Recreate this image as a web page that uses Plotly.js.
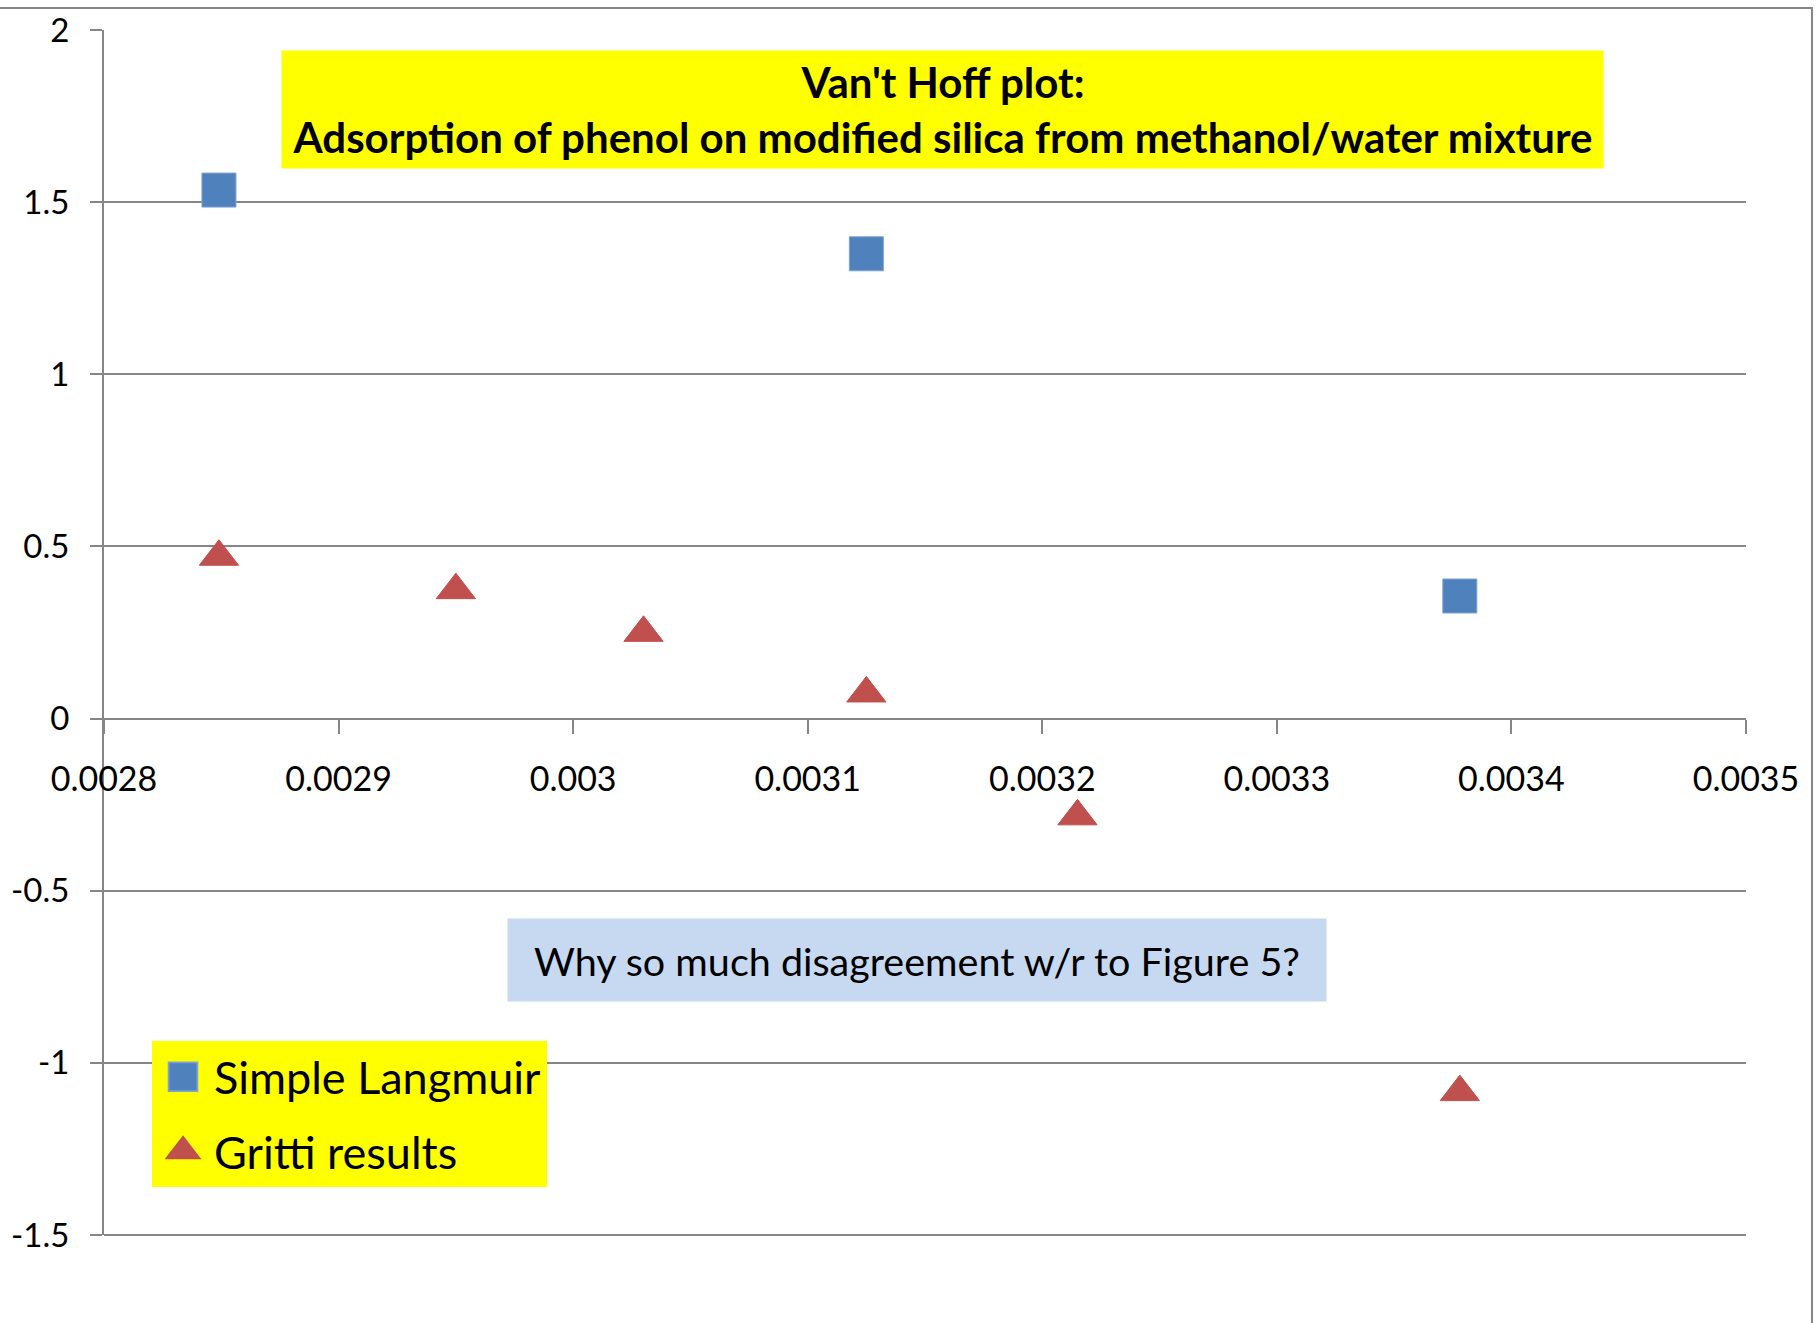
<!DOCTYPE html>
<html>
<head>
<meta charset="utf-8">
<script src="https://cdn.plot.ly/plotly-3.0.1.min.js"></script>
<style>
  html, body { margin: 0; padding: 0; background: #ffffff; }
  #chart { width: 1818px; height: 1323px; }
</style>
</head>
<body>
<div id="chart"></div>
<script>
// ---- Data ----
var langmuirX = [0.002849, 0.003125, 0.003378];
var langmuirY = [1.535, 1.350, 0.356];

var grittiX = [0.002849, 0.002950, 0.003030, 0.003125, 0.003215, 0.003378];
var grittiY = [0.470, 0.373, 0.249, 0.073, -0.284, -1.085];

var seriesNames = ['Simple Langmuir', 'Gritti results'];

var xRange = [0.0028, 0.0035];
var yRange = [-1.5, 2];
var xTickVals = [0.0028, 0.0029, 0.0030, 0.0031, 0.0032, 0.0033, 0.0034, 0.0035];
var xTickText = ['0.0028', '0.0029', '0.003', '0.0031', '0.0032', '0.0033', '0.0034', '0.0035'];
var yTickVals = [-1.5, -1, -0.5, 0, 0.5, 1, 1.5, 2];
var yTickText = ['-1.5', '-1', '-0.5', '0', '0.5', '1', '1.5', '2'];

var titleText = "Van't Hoff plot:<br>Adsorption of phenol on modified silica from methanol/water mixture";
var noteText = 'Why so much disagreement w/r to Figure 5?';

// ---- Styling ----
var FONT = 'Lato, Carlito, "Open Sans", sans-serif';
var GRID = '#868686';

var traces = [
  {
    type: 'scatter', mode: 'markers', name: seriesNames[0], legendgroup: 'a',
    x: langmuirX, y: langmuirY,
    marker: { symbol: 'square', size: 34, color: '#4F81BD', line: { color: '#7EA3D3', width: 1 } }
  },
  {
    type: 'scatter', mode: 'markers', name: seriesNames[1], legendgroup: 'b',
    x: grittiX, y: grittiY,
    marker: { symbol: 'triangle-up', size: 34, color: '#C0504D', line: { color: '#C0504D', width: 1 } }
  }
];

var W = 1818, H = 1323;
var mL = 104, mR = 72, mT = 30, mB = 88;
var pw = W - mL - mR, ph = H - mT - mB;
function px(xp) { return (xp - mL) / pw; }
function py(yp) { return (H - mB - yp) / ph; }

var layout = {
  width: W, height: H, autosize: false,
  margin: { l: mL, r: mR, t: mT, b: mB, pad: 0 },
  paper_bgcolor: '#ffffff', plot_bgcolor: '#ffffff',
  font: { family: FONT, color: '#000000' },
  showlegend: true,
  legend: {
    x: px(152), y: py(1041), xanchor: 'left', yanchor: 'top',
    bgcolor: '#FFFF00', borderwidth: 0,
    font: { family: FONT, size: 45, color: '#000000' },
    traceorder: 'grouped', tracegroupgap: 13,
    itemsizing: 'trace', itemwidth: 52
  },
  xaxis: {
    range: xRange, anchor: 'free',
    position: (0 - yRange[0]) / (yRange[1] - yRange[0]),
    tickmode: 'array', tickvals: xTickVals, ticktext: xTickText,
    ticks: 'outside', ticklen: 14, tickwidth: 2, tickcolor: GRID,
    ticklabelstandoff: 17,
    showline: true, linecolor: GRID, linewidth: 2,
    showgrid: false, zeroline: false,
    tickfont: { family: FONT, size: 34, color: '#000000' }
  },
  yaxis: {
    range: yRange,
    tickmode: 'array', tickvals: yTickVals, ticktext: yTickText,
    ticks: 'outside', ticklen: 12, tickwidth: 2, tickcolor: GRID,
    ticklabelstandoff: 14,
    showline: true, linecolor: GRID, linewidth: 2,
    showgrid: true, gridcolor: GRID, gridwidth: 2, zeroline: false,
    tickfont: { family: FONT, size: 33, color: '#000000' }
  },
  shapes: [
    { type: 'rect', xref: 'paper', yref: 'paper',
      x0: -0.2, x1: px(1812), y0: -0.2, y1: py(8),
      line: { color: GRID, width: 2 }, fillcolor: 'rgba(0,0,0,0)', layer: 'below' },
    // bottom gridline (Plotly drops the grid line that sits on the lower edge)
    { type: 'line', xref: 'paper', yref: 'paper',
      x0: 0, x1: 1, y0: 0, y1: 0,
      line: { color: GRID, width: 2 }, layer: 'below' }
  ],
  annotations: [
    { text: '<b>' + titleText + '</b>', xref: 'paper', yref: 'paper',
      x: px(942), y: py(110), xanchor: 'center', yanchor: 'middle',
      showarrow: false, bgcolor: '#FFFF00', borderpad: 0,
      width: 1321, height: 117, align: 'center',
      font: { family: FONT, size: 42, color: '#000000' } },
    { text: noteText, xref: 'paper', yref: 'paper',
      x: px(917), y: py(960), xanchor: 'center', yanchor: 'middle',
      showarrow: false, bgcolor: '#C6D9F1', borderpad: 0,
      width: 818, height: 82, align: 'center',
      font: { family: FONT, size: 39.5, color: '#000000' } }
  ]
};

Plotly.newPlot('chart', traces, layout, { displayModeBar: false, staticPlot: true }).then(function (gd) {
  // enlarge the legend symbols (Plotly caps them at 16px) to match the reference
  gd.querySelectorAll('.legend path.scatterpts').forEach(function (p) {
    var t = p.getAttribute('transform') || '';
    p.setAttribute('transform', t + ' scale(1.8)');
  });
});
</script>
</body>
</html>
